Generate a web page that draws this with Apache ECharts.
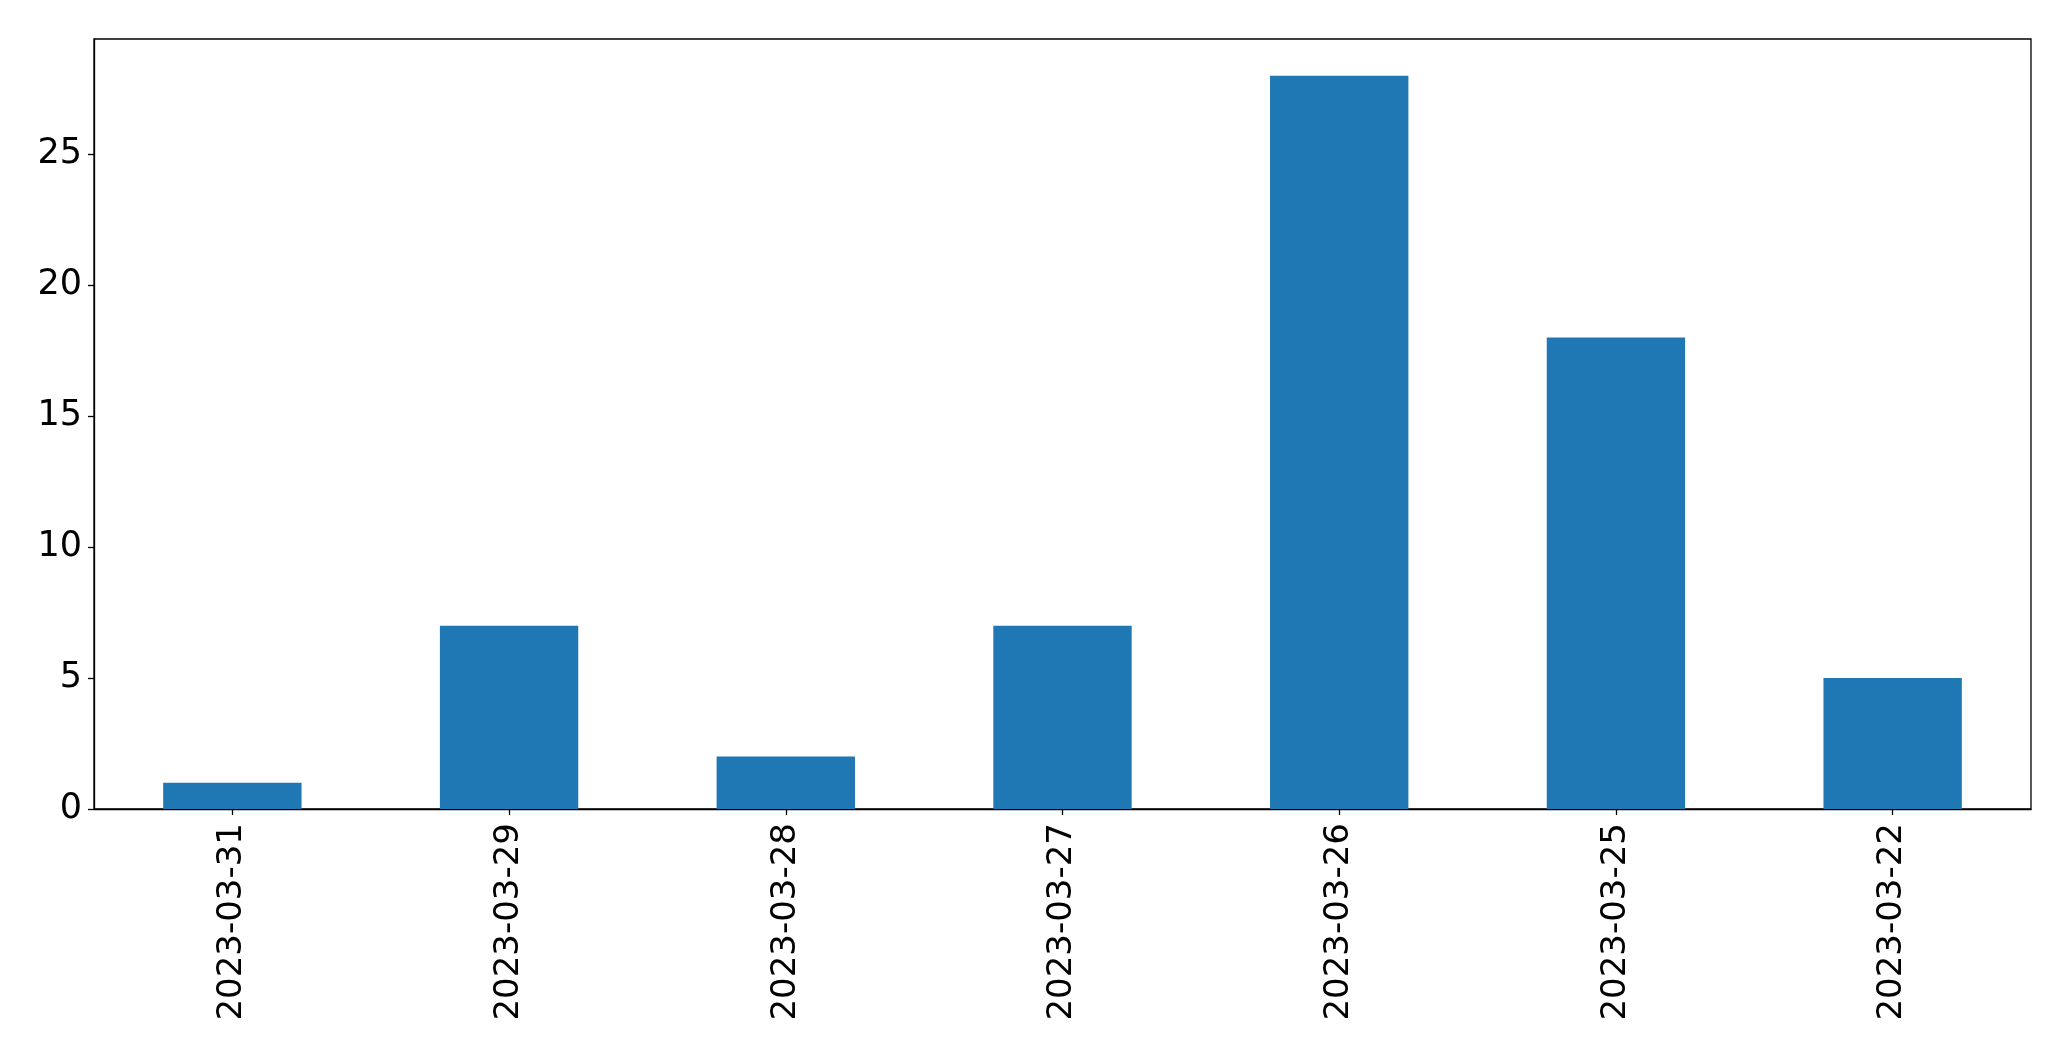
<!DOCTYPE html>
<html>
<head>
<meta charset="utf-8">
<script src="https://cdn.jsdelivr.net/npm/echarts@6/dist/echarts.min.js"></script>
<style>
html,body{margin:0;padding:0;background:#fff;}
#chart{width:2071px;height:1061px;}
</style>
</head>
<body>
<div id="chart"></div>
<script>
const categories = ["2023-03-31","2023-03-29","2023-03-28","2023-03-27","2023-03-26","2023-03-25","2023-03-22"];
const values = [1, 7, 2, 7, 28, 18, 5];
const yTicks = [0, 5, 10, 15, 20, 25];

const chart = echarts.init(document.getElementById('chart'), null, {renderer: 'canvas'});
const font = 'DejaVu Sans';
chart.setOption({
  animation: false,
  backgroundColor: '#ffffff',
  grid: {left: 94, right: 40, top: 39, bottom: 252, show: true, borderColor: '#000', borderWidth: 1.3, backgroundColor: 'transparent'},
  xAxis: {
    type: 'category',
    data: categories,
    axisLine: {show: true, lineStyle: {color: '#000', width: 1.3}},
    axisTick: {show: true, alignWithLabel: true, length: 6, lineStyle: {color: '#000', width: 1.3}},
    axisLabel: {rotate: 90, color: '#000', fontSize: 34, fontFamily: font, margin: 14},
    splitLine: {show: false}
  },
  yAxis: {
    type: 'value',
    min: 0,
    max: 29.4,
    interval: 5,
    axisLine: {show: true, lineStyle: {color: '#000', width: 1.3}},
    axisTick: {show: true, length: 6, customValues: yTicks, lineStyle: {color: '#000', width: 1.3}},
    axisLabel: {color: '#000', fontSize: 35, fontFamily: font, margin: 12, customValues: yTicks},
    splitLine: {show: false}
  },
  series: [{
    type: 'bar',
    data: values,
    barWidth: '50%',
    itemStyle: {color: '#1f77b4'}
  }]
});
</script>
</body>
</html>
